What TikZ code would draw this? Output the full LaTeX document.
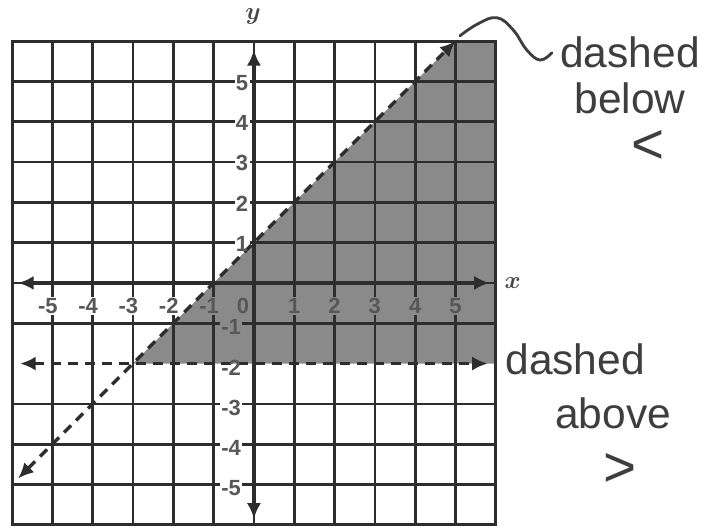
\documentclass[tikz,border=0pt]{standalone}
\usepackage{fontspec}
\setmainfont{Liberation Sans}
\usetikzlibrary{arrows.meta}
\definecolor{shadecol}{RGB}{138,138,138}
\definecolor{ink}{RGB}{45,45,45}
\definecolor{pen}{RGB}{62,62,62}
\newcommand\myticklabels[2]{%
  \foreach \x in {-5,...,-1} \node[#1, anchor=east, name=#2x\x] at (\x+0.17,-0.57) {\x};
  \node[#1, anchor=east, name=#2x0] at (-0.08,-0.57) {0};
  \foreach \x in {1,...,5} \node[#1, name=#2x\x] at (\x,-0.57) {\x};
  \foreach \y in {1,...,5} \node[#1, anchor=east, name=#2y\y] at (-0.1,\y-0.03) {\y};
  \foreach \y in {-5,...,-1} \node[#1, anchor=east, name=#2y\y] at (-0.28,\y-0.1) {\y};
}
\begin{document}
\begin{tikzpicture}[
  tip/.tip={Latex[length=11pt,width=10pt]},
  gridline/.style={ink, line width=1.9pt},
  axisline/.style={ink, line width=2.3pt, tip-tip},
  dashline/.style={ink, line width=2.4pt, dash pattern=on 7pt off 5pt, tip-tip},
  ticklab/.style={font=\fontsize{15.5}{15.5}\selectfont\bfseries, text=black!66, inner sep=1pt},
  knockw/.style={ticklab, fill=white, text opacity=0},
  knockg/.style={ticklab, fill=shadecol, text opacity=0},
  hand/.style={font=\fontsize{30}{30}\selectfont, text=pen, inner sep=0pt},
  axlab/.style={font=\fontsize{18}{18}\selectfont\boldmath, text=black!72, inner sep=0pt},
]
\useasboundingbox (-6.30,-6.13) rectangle (11.34,7.02);
\fill[white] (-6.30,-6.13) rectangle (11.34,7.02);

% shaded region
\coordinate (A) at (-3,-2);
\coordinate (B) at (5,6);
\coordinate (C) at (6,6);
\coordinate (D) at (6,-2);
\fill[shadecol] (A) -- (B) -- (C) -- (D) -- cycle;

% grid (the line y=-2 is the dashed boundary)
\foreach \i in {-5,...,5} {
  \draw[gridline] (\i,-6) -- (\i,6);
}
\foreach \i in {-5,-4,-3,-1,0,1,2,3,4,5} {
  \draw[gridline] (-6,\i) -- (6,\i);
}

% knockouts behind tick labels
\myticklabels{knockw}{kw}
\begin{scope}
  \clip (A) -- (B) -- (C) -- (D) -- cycle;
  \myticklabels{knockg}{kg}
\end{scope}

% frame
\draw[ink, line width=2.2pt] (-6,-6) rectangle (6,6);

% axes
\coordinate (xl) at (-5.85,0);
\coordinate (xr) at (5.85,0);
\coordinate (yb) at (0,-5.85);
\coordinate (yt) at (0,5.78);
\draw[axisline] (xl) -- (xr);
\draw[axisline] (yb) -- (yt);

% dashed boundary lines
\coordinate (P1) at (-5.85,-4.85);
\draw[dashline] (P1) -- (B);
\coordinate (H1) at (-5.8,-2);
\coordinate (H2) at (5.8,-2);
\draw[dashline] (H1) -- (H2);

% tick labels
\myticklabels{ticklab}{t}

% axis labels
\node[axlab] (xlab) at (6.42,0.0) {$x$};
\node[axlab] (ylab) at (-0.02,6.62) {$y$};

% squiggle pointer
\draw[pen, line width=2pt, line cap=round] plot[smooth, tension=0.7] coordinates {(5.11,6.13) (5.56,6.43) (6.03,6.58) (6.43,6.28) (6.77,5.78) (7.10,5.53) (7.39,5.71)};

% handwritten notes
\node[hand] (n1) at (9.33,5.72) {dashed};
\node[hand] (n2) at (9.33,4.59) {below};
\node[hand, font=\fontsize{40}{40}\selectfont] (n3) at (9.78,3.37) {<};
\node[hand] (n4) at (7.97,-1.89) {dashed};
\node[hand] (n5) at (8.91,-3.23) {above};
\node[hand, font=\fontsize{40}{40}\selectfont] (n6) at (9.08,-4.64) {>};
\end{tikzpicture}
\end{document}
